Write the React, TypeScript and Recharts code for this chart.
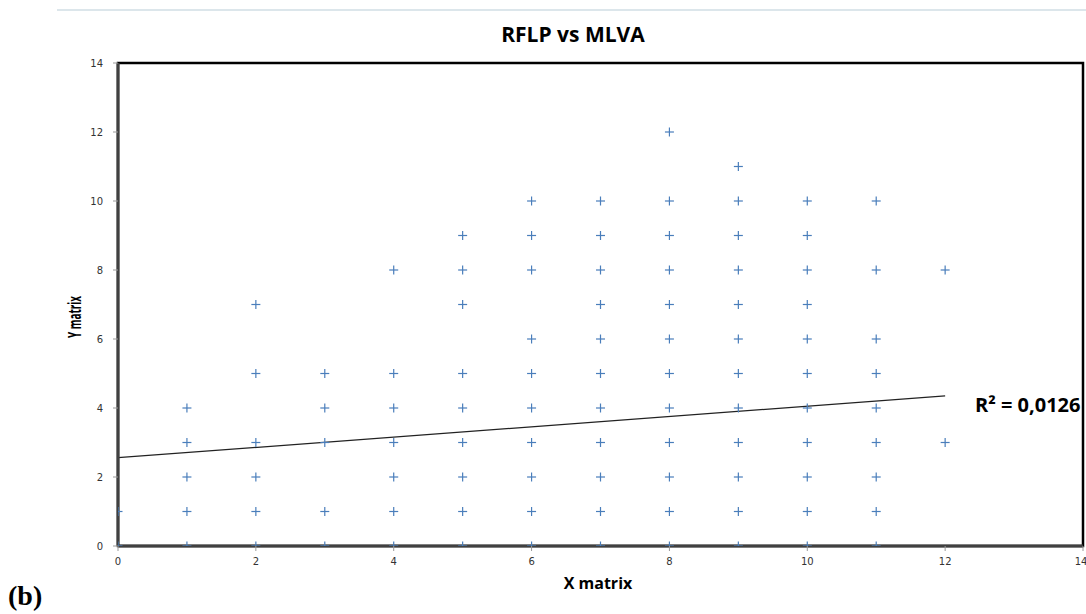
import React from "react";
import {
    ScatterChart,
    Scatter,
    XAxis,
    YAxis,
    ReferenceArea,
    ReferenceLine
} from "recharts";

// x matrix values (columns) and the y matrix values seen in each column
const xValues: number[] = [0, 1, 2, 3, 4, 5, 6, 7, 8, 9, 10, 11, 12];
const yByX: number[][] = [
    [0, 1],
    [0, 1, 2, 3, 4],
    [0, 1, 2, 3, 5, 7],
    [0, 1, 3, 4, 5],
    [0, 1, 2, 3, 4, 5, 8],
    [0, 1, 2, 3, 4, 5, 7, 8, 9],
    [0, 1, 2, 3, 4, 5, 6, 8, 9, 10],
    [0, 1, 2, 3, 4, 5, 6, 7, 8, 9, 10],
    [0, 1, 2, 3, 4, 5, 6, 7, 8, 9, 10, 12],
    [0, 1, 2, 3, 4, 5, 6, 7, 8, 9, 10, 11],
    [0, 1, 2, 3, 4, 5, 6, 7, 8, 9, 10],
    [0, 1, 2, 3, 4, 5, 6, 8, 10],
    [3, 8]
];

// linear trend line
const trendX: number[] = [0, 12];
const trendY: number[] = [2.56, 4.35];

const axisTicks: number[] = [0, 2, 4, 6, 8, 10, 12, 14];

const points = xValues.flatMap((x, i) => yByX[i].map((y) => ({ x, y })));

const MARK = "#4a7ebb";

const Plus = (props: any) => {
    const { cx, cy } = props;
    if (cx == null || cy == null) return null;
    return (
        <g>
            <line x1={cx - 4.5} x2={cx + 4.5} y1={cy} y2={cy} stroke={MARK} strokeWidth={1.2} />
            <line x1={cx} x2={cx} y1={cy - 4.5} y2={cy + 4.5} stroke={MARK} strokeWidth={1.2} />
        </g>
    );
};

const tickStyle = { fontSize: 10, fill: "#333", fontFamily: "DejaVu Sans" };

const App = () => {
    return (
        <div
            style={{
                position: "absolute",
                left: 0,
                top: 0,
                width: 1086,
                height: 614,
                background: "#fff",
                fontFamily: "'Open Sans', sans-serif",
                overflow: "hidden"
            }}
        >
            <div
                style={{
                    position: "absolute",
                    left: 57,
                    top: 9,
                    width: 1029,
                    height: 2,
                    background: "#dce6eb"
                }}
            />
            <div
                style={{
                    position: "absolute",
                    left: 373,
                    top: 19,
                    width: 400,
                    textAlign: "center",
                    fontSize: 21,
                    fontWeight: 700,
                    lineHeight: "30px",
                    color: "#000"
                }}
            >
                RFLP vs MLVA
            </div>
            <ScatterChart
                width={1086}
                height={614}
                margin={{ top: 63, right: 3, bottom: 0, left: 0 }}
            >
                <XAxis
                    type="number"
                    dataKey="x"
                    domain={[0, 14]}
                    ticks={axisTicks}
                    allowDataOverflow
                    height={68}
                    tickSize={5}
                    tickMargin={7}
                    tick={tickStyle}
                    axisLine={{ stroke: "#404040", strokeWidth: 3 }}
                    tickLine={{ stroke: "#999" }}
                />
                <YAxis
                    type="number"
                    dataKey="y"
                    domain={[0, 14]}
                    ticks={axisTicks}
                    allowDataOverflow
                    width={118}
                    tickSize={5}
                    tickMargin={10}
                    tick={tickStyle}
                    axisLine={{ stroke: "#404040", strokeWidth: 3 }}
                    tickLine={{ stroke: "#999" }}
                    label={{
                        content: () => (
                            <text
                                x={74}
                                y={317}
                                transform="rotate(-90 74 317)"
                                textAnchor="middle"
                                dominantBaseline="central"
                                fontSize={17}
                                fontWeight="bold"
                                fontFamily="'Open Sans', sans-serif"
                                fill="#000"
                                textLength={42}
                                lengthAdjust="spacingAndGlyphs"
                            >
                                Y matrix
                            </text>
                        )
                    }}
                />
                <ReferenceArea
                    x1={0}
                    x2={14}
                    y1={0}
                    y2={14}
                    fill="none"
                    fillOpacity={0}
                    stroke="#000"
                    strokeWidth={2.5}
                />
                <Scatter data={points} shape={Plus} isAnimationActive={false} />
                <ReferenceLine
                    segment={[
                        { x: trendX[0], y: trendY[0] },
                        { x: trendX[1], y: trendY[1] }
                    ]}
                    stroke="#222"
                    strokeWidth={1.2}
                />
            </ScatterChart>
            <div
                style={{
                    position: "absolute",
                    left: 548,
                    top: 572,
                    width: 100,
                    textAlign: "center",
                    fontSize: 16,
                    fontWeight: 700,
                    lineHeight: "22px"
                }}
            >
                X matrix
            </div>
            <div
                style={{
                    position: "absolute",
                    left: 975,
                    top: 390,
                    fontSize: 20,
                    fontWeight: 700,
                    lineHeight: "30px",
                    whiteSpace: "nowrap"
                }}
            >
                R² = 0,0126
            </div>
            <div
                style={{
                    position: "absolute",
                    left: 8,
                    top: 580,
                    fontFamily: "'Liberation Serif', serif",
                    fontSize: 28,
                    fontWeight: 700,
                    lineHeight: "32px"
                }}
            >
                (b)
            </div>
        </div>
    );
};

export default App;
